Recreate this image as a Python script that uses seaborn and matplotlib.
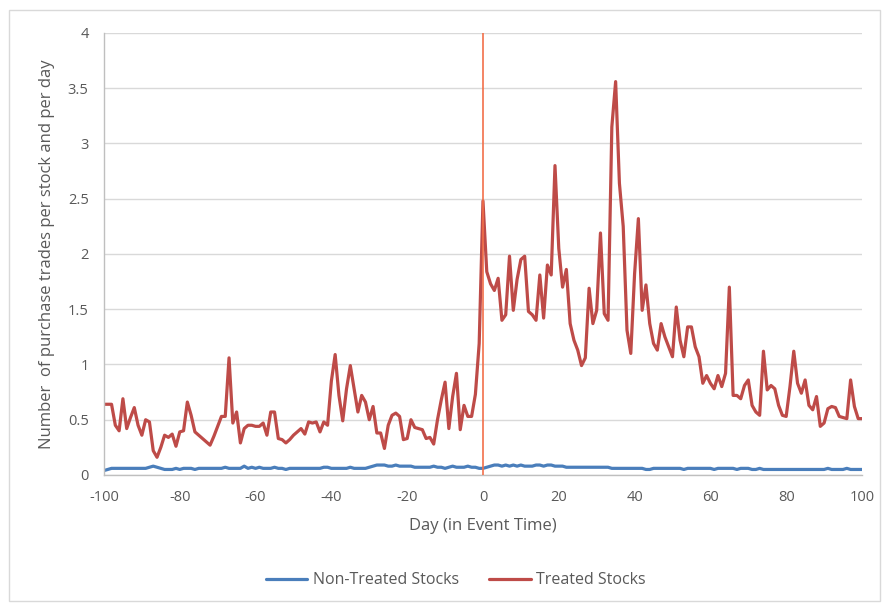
import numpy as np
import pandas as pd
import matplotlib
matplotlib.use("Agg")
import matplotlib.pyplot as plt
import matplotlib.ticker as mticker
from matplotlib.patches import Rectangle
import seaborn as sns

# days in event time
days = list(range(-100, 101))

# Treated stocks (day -100 .. 100)
treated = [
    0.64, 0.64, 0.64, 0.45, 0.40, 0.69, 0.42, 0.52, 0.61, 0.45,
    0.36, 0.50, 0.48, 0.22, 0.16, 0.25, 0.36, 0.34, 0.37, 0.26,
    0.39, 0.40, 0.66, 0.54, 0.39, 0.36, 0.33, 0.30, 0.27, 0.35,
    0.44, 0.53, 0.53, 1.06, 0.47, 0.57, 0.29, 0.42, 0.45, 0.45,
    0.44, 0.44, 0.47, 0.36, 0.57, 0.57, 0.33, 0.32, 0.29, 0.32,
    0.36, 0.39, 0.42, 0.37, 0.48, 0.47, 0.48, 0.39, 0.48, 0.45,
    0.85, 1.09, 0.72, 0.49, 0.78, 0.99, 0.78, 0.57, 0.72, 0.66,
    0.50, 0.62, 0.38, 0.38, 0.24, 0.45, 0.54, 0.56, 0.53, 0.32,
    0.33, 0.50, 0.43, 0.42, 0.41, 0.33, 0.34, 0.28, 0.50, 0.68,
    0.84, 0.42, 0.71, 0.92, 0.41, 0.63, 0.53, 0.53, 0.73, 1.19,
    2.48, 1.84, 1.73, 1.67, 1.78, 1.40, 1.45, 1.98, 1.49, 1.77,
    1.95, 1.98, 1.48, 1.45, 1.40, 1.81, 1.42, 1.90, 1.81, 2.80,
    2.05, 1.70, 1.86, 1.37, 1.22, 1.13, 0.99, 1.06, 1.69, 1.37,
    1.49, 2.19, 1.46, 1.40, 3.15, 3.56, 2.64, 2.25, 1.31, 1.10,
    1.82, 2.32, 1.49, 1.72, 1.37, 1.19, 1.13, 1.37, 1.25, 1.16,
    1.07, 1.52, 1.22, 1.07, 1.34, 1.34, 1.16, 1.07, 0.83, 0.90,
    0.83, 0.78, 0.90, 0.80, 0.92, 1.70, 0.72, 0.72, 0.69, 0.81,
    0.86, 0.63, 0.57, 0.54, 1.12, 0.77, 0.81, 0.78, 0.63, 0.54,
    0.53, 0.80, 1.12, 0.83, 0.74, 0.86, 0.63, 0.59, 0.71, 0.44,
    0.47, 0.60, 0.62, 0.61, 0.53, 0.52, 0.51, 0.86, 0.62, 0.51,
    0.51,
]

# Non-treated stocks
non_treated = [
    0.04, 0.05, 0.06, 0.06, 0.06, 0.06, 0.06, 0.06, 0.06, 0.06,
    0.06, 0.06, 0.07, 0.08, 0.07, 0.06, 0.05, 0.05, 0.05, 0.06,
    0.05, 0.06, 0.06, 0.06, 0.05, 0.06, 0.06, 0.06, 0.06, 0.06,
    0.06, 0.06, 0.07, 0.06, 0.06, 0.06, 0.06, 0.08, 0.06, 0.07,
    0.06, 0.07, 0.06, 0.06, 0.06, 0.07, 0.06, 0.06, 0.05, 0.06,
    0.06, 0.06, 0.06, 0.06, 0.06, 0.06, 0.06, 0.06, 0.07, 0.07,
    0.06, 0.06, 0.06, 0.06, 0.06, 0.07, 0.06, 0.06, 0.06, 0.06,
    0.07, 0.08, 0.09, 0.09, 0.09, 0.08, 0.08, 0.09, 0.08, 0.08,
    0.08, 0.08, 0.07, 0.07, 0.07, 0.07, 0.07, 0.08, 0.07, 0.07,
    0.06, 0.07, 0.08, 0.07, 0.07, 0.07, 0.08, 0.07, 0.07, 0.06,
    0.06, 0.07, 0.08, 0.09, 0.09, 0.08, 0.09, 0.08, 0.09, 0.08,
    0.09, 0.08, 0.08, 0.08, 0.09, 0.09, 0.08, 0.09, 0.09, 0.08,
    0.08, 0.08, 0.07, 0.07, 0.07, 0.07, 0.07, 0.07, 0.07, 0.07,
    0.07, 0.07, 0.07, 0.07, 0.06, 0.06, 0.06, 0.06, 0.06, 0.06,
    0.06, 0.06, 0.06, 0.05, 0.05, 0.06, 0.06, 0.06, 0.06, 0.06,
    0.06, 0.06, 0.06, 0.05, 0.06, 0.06, 0.06, 0.06, 0.06, 0.06,
    0.06, 0.05, 0.06, 0.06, 0.06, 0.06, 0.06, 0.05, 0.06, 0.06,
    0.06, 0.05, 0.05, 0.06, 0.05, 0.05, 0.05, 0.05, 0.05, 0.05,
    0.05, 0.05, 0.05, 0.05, 0.05, 0.05, 0.05, 0.05, 0.05, 0.05,
    0.05, 0.06, 0.05, 0.05, 0.05, 0.05, 0.06, 0.05, 0.05, 0.05,
    0.05,
]

series_names = ["Non-Treated Stocks", "Treated Stocks"]
colors = ["#4a7ebb", "#be4b48"]

df = pd.concat([
    pd.DataFrame({"day": days, "value": non_treated, "series": series_names[0]}),
    pd.DataFrame({"day": days, "value": treated, "series": series_names[1]}),
])

sns.set_style("white")
plt.rcParams["font.family"] = ["Open Sans", "DejaVu Sans"]
plt.rcParams["axes.unicode_minus"] = False
text_col = "#595959"

fig = plt.figure(figsize=(8.84, 6.04), dpi=100)
ax = fig.add_axes([0.1176, 0.2136, 0.8575, 0.7318])

sns.lineplot(data=df, x="day", y="value", hue="series",
             palette=dict(zip(series_names, colors)), linewidth=2.3, ax=ax)

ax.axvline(0, color="#f2704a", lw=1.2, zorder=5)

ax.set_xlim(-100, 100)
ax.set_ylim(0, 4)
ax.set_xticks(np.arange(-100, 101, 20))
ax.set_yticks(np.arange(0, 4.01, 0.5))
ax.yaxis.set_major_formatter(mticker.FuncFormatter(lambda v, p: f"{v:g}"))
ax.grid(axis="y", color="#d9d9d9", lw=1)
ax.set_axisbelow(True)

for s in ["top", "right"]:
    ax.spines[s].set_visible(False)
for s in ["left", "bottom"]:
    ax.spines[s].set_color("#bfbfbf")
    ax.spines[s].set_linewidth(1)

ax.tick_params(axis="both", colors="#bfbfbf", labelcolor=text_col,
               labelsize=10.5, length=5, width=1, direction="out")
ax.tick_params(axis="y", pad=6)
ax.tick_params(axis="x", pad=6)

ax.set_xlabel("Day (in Event Time)", color=text_col, fontsize=12, labelpad=9)
ax.set_ylabel("Number  of purchase trades per stock and per day", color=text_col,
              fontsize=12, labelpad=9)

sns.move_legend(ax, "center", bbox_to_anchor=(0.464, -0.238), ncol=2,
                frameon=False, title=None, fontsize=11.5, columnspacing=1.9,
                handlelength=2.6, handletextpad=0.35)
for t in ax.get_legend().get_texts():
    t.set_color(text_col)

# chart area border
fig.patches.append(Rectangle((0.01, 0.005), 0.985, 0.978, transform=fig.transFigure,
                             fill=False, edgecolor="#d9d9d9", lw=1))

fig.savefig("out.png", dpi=100)
